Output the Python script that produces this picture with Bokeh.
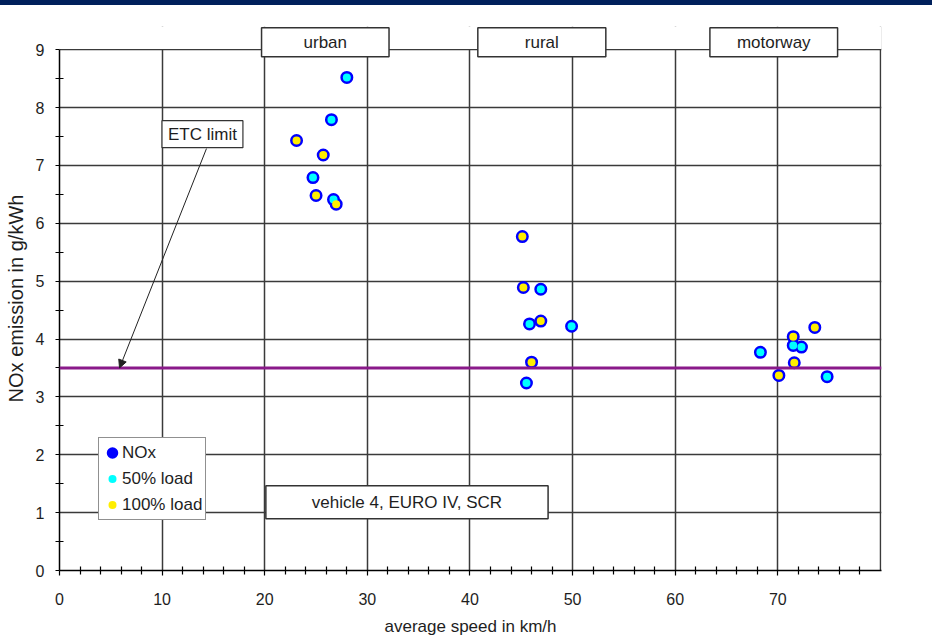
from bokeh.plotting import figure
from bokeh.layouts import column
from bokeh.models import (Range1d, FixedTicker, Span, Label, Arrow, NormalHead,
                          Legend, LegendItem, ColumnDataSource, BoxAnnotation, Div)
from bokeh.embed import file_html
from bokeh.resources import INLINE

# ---- data ----
speed_50 = [28.0, 26.5, 24.7, 26.7, 46.9, 45.8, 49.9, 45.5, 71.5, 72.3, 68.3, 74.8]
nox_50 = [8.52, 7.79, 6.79, 6.41, 4.86, 4.26, 4.22, 3.24, 3.89, 3.86, 3.77, 3.35]
speed_100 = [23.1, 25.7, 25.0, 26.96, 45.1, 45.2, 46.9, 46.0, 73.6, 71.5, 71.6, 70.1]
nox_100 = [7.43, 7.18, 6.48, 6.33, 5.77, 4.89, 4.31, 3.60, 4.20, 4.04, 3.59, 3.37]
etc_limit = 3.5
x_ticks = [0, 10, 20, 30, 40, 50, 60, 70]
x_grid = [10, 20, 30, 40, 50, 60, 70, 80]
x_minor = [v for v in range(2, 80, 2) if v % 10]
y_ticks = [0, 1, 2, 3, 4, 5, 6, 7, 8, 9]
y_minor = [v + 0.5 for v in range(9)]
regions = ["urban", "rural", "motorway"]
region_x = [25.9, 47.0, 69.6]
region_pad = [42, 47, 27]

FONT = "Liberation Sans"
TXT = "#1e1e1e"
GRID = "#3a3a3a"

p = figure(width=932, height=636, output_backend="svg", toolbar_location=None,
           x_range=Range1d(0, 80.1), y_range=Range1d(0, 9.4),
           min_border_left=59, min_border_right=51, min_border_top=21, min_border_bottom=71)
p.background_fill_color = "white"
p.border_fill_color = "white"
p.outline_line_color = None

# axes
p.xaxis.ticker = FixedTicker(ticks=x_ticks, minor_ticks=x_minor)
p.yaxis.ticker = FixedTicker(ticks=y_ticks, minor_ticks=y_minor)
p.yaxis.bounds = (0, 9)
for ax in (p.xaxis, p.yaxis):
    ax.axis_line_color = "black"
    ax.axis_line_width = 1.5
    ax.major_tick_line_color = "black"
    ax.minor_tick_line_color = "black"
    ax.major_tick_line_width = 1.2
    ax.minor_tick_line_width = 1.2
    ax.major_tick_in = 0
    ax.minor_tick_in = 4
    ax.minor_tick_out = 4
    ax.major_label_text_font = FONT
    ax.major_label_text_font_size = "16px"
    ax.major_label_text_color = TXT
    ax.axis_label_text_font = FONT
    ax.axis_label_text_font_style = "normal"
    ax.axis_label_text_color = TXT
p.xaxis.major_tick_out = 5
p.yaxis.major_tick_out = 4
p.xaxis.major_label_standoff = 17
p.yaxis.major_label_standoff = 11
p.xaxis.axis_label = "average speed in km/h"
p.yaxis.axis_label = "NOx emission in g/kWh"
p.xaxis.axis_label_text_font_size = "17px"
p.yaxis.axis_label_text_font_size = "20px"
p.xaxis.axis_label_standoff = 9
p.yaxis.axis_label_standoff = 6

# grid
p.xgrid.ticker = FixedTicker(ticks=x_grid)
p.ygrid.ticker = FixedTicker(ticks=y_ticks[1:])
for g in (p.xgrid, p.ygrid):
    g.grid_line_color = GRID
    g.grid_line_width = 1.5

# blank strip above the top of the scale (room for the region boxes)
p.add_layout(BoxAnnotation(bottom=9.012, fill_color="white", fill_alpha=1,
                           line_color=None, level="underlay"))

# ETC limit line
p.add_layout(Span(location=etc_limit, dimension="width", line_color="#8a1a8a", line_width=3))

# points
src_all = ColumnDataSource(dict(x=speed_50 + speed_100, y=nox_50 + nox_100))
r_nox = p.scatter("x", "y", source=src_all, size=9.5, fill_color="#0000ff",
                  line_color="#0000ff", line_width=3.5)
r50 = p.scatter(speed_50, nox_50, size=8, fill_color="#00ffff", line_color=None)
r100 = p.scatter(speed_100, nox_100, size=8, fill_color="#ffee00", line_color=None)

legend = Legend(items=[LegendItem(label="NOx", renderers=[r_nox]),
                       LegendItem(label="50% load", renderers=[r50]),
                       LegendItem(label="100% load", renderers=[r100])],
                location=(39, 50), border_line_color="#222", border_line_width=1.2,
                background_fill_color="white", background_fill_alpha=1,
                label_text_font=FONT, label_text_font_size="17px", label_text_color=TXT,
                glyph_width=20, glyph_height=23, label_height=23, label_standoff=0,
                label_width=80, padding=3, spacing=3, margin=0)
p.add_layout(legend)

# region boxes at the top
for name, xc, pad in zip(regions, region_x, region_pad):
    p.add_layout(Label(x=xc, y=9.13, text=name, text_align="center", text_baseline="middle",
                       text_font=FONT, text_font_size="17px", text_color=TXT,
                       border_line_color="#333", border_line_width=1.5,
                       background_fill_color="white", padding=(pad, pad, 5, 5)))

# ETC limit annotation
p.add_layout(Label(x=13.93, y=7.54, text="ETC limit", text_align="center", text_baseline="middle",
                   text_font=FONT, text_font_size="17px", text_color=TXT,
                   border_line_color="#333", border_line_width=1.2,
                   background_fill_color="white", padding=(6, 6, 4, 4)))
p.add_layout(Arrow(x_start=14.32, y_start=7.29, x_end=5.85, y_end=etc_limit,
                   line_color="#222", line_width=1,
                   end=NormalHead(size=8, fill_color="#222", line_color="#222")))

# vehicle info
p.add_layout(Label(x=33.86, y=1.18, text="vehicle 4, EURO IV, SCR", text_align="center",
                   text_baseline="middle", text_font=FONT, text_font_size="17px", text_color=TXT,
                   border_line_color="#333", border_line_width=1.5,
                   background_fill_color="white", padding=(46, 46, 7, 7)))

bar = Div(text="", width=932, height=5, margin=0, styles={"background-color": "#00205b"})
page = column(bar, p, spacing=0, margin=0)

open("out.html", "w").write(file_html(page, INLINE))
